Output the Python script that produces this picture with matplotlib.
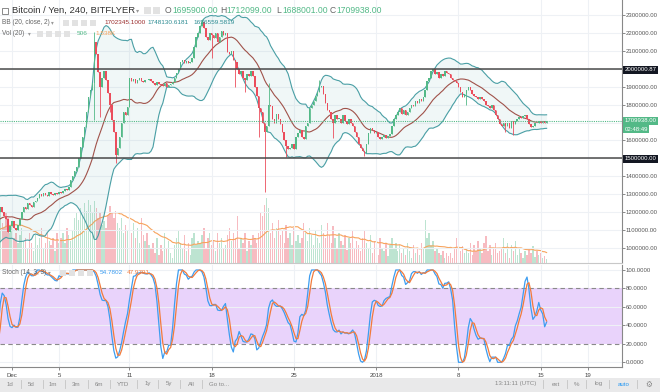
import numpy as np
import pandas as pd
import matplotlib
matplotlib.use('Agg')
import matplotlib.pyplot as plt
from matplotlib.patches import Rectangle
from matplotlib.ticker import FuncFormatter

plt.rcParams['font.family'] = ['Liberation Sans', 'DejaVu Sans']

# 4h candles, closes in thousands of yen. warmup = bars before the visible window (for BB / stoch / vol MA)
warmup_close = [1070, 1080, 1100, 1110, 1120, 1130, 1140, 1160, 1180, 1190,
                1200, 1220, 1250, 1270, 1260, 1180, 1090, 1030, 1120, 1200]
close_k = [
    1230, 1200, 1180, 1160, 1090, 1120, 1150, 1110, 1100, 1130,
    1160, 1200, 1230, 1220, 1250, 1240, 1230, 1257, 1265, 1280,
    1300, 1290, 1305, 1295, 1290, 1310, 1300, 1295, 1305, 1300,
    1310, 1305, 1320, 1330, 1325, 1340, 1380, 1400, 1430, 1452,
    1500, 1564, 1620, 1675, 1760, 1843, 1880, 1920, 2150, 2080,
    1980, 1900, 1950, 1990, 1940, 1865, 1800, 1714, 1650, 1520,
    1560, 1620, 1700, 1760, 1740, 1785, 1950, 1930, 1945, 1920,
    1935, 1950, 1930, 1925, 1940, 1935, 1945, 1930, 1920, 1910,
    1925, 1915, 1910, 1905, 1920, 1900, 1910, 1915, 1925, 1950,
    1976, 2000, 2040, 2050, 2030, 2045, 2030, 2040, 2060, 2120,
    2180, 2200, 2240, 2260, 2230, 2180, 2160, 2200, 2190, 2170,
    2200, 2150, 2180, 2210, 2190, 2200, 2095, 2080, 2100, 2050,
    2040, 2000, 1970, 1990, 1950, 1940, 1970, 1960, 1990, 1960,
    1900, 1850, 1780, 1760, 1700, 1650, 1680, 1800, 1790, 1720,
    1700, 1750, 1720, 1690, 1650, 1600, 1570, 1550, 1560, 1580,
    1550, 1620, 1640, 1660, 1620, 1610, 1680, 1700, 1780, 1800,
    1820, 1850, 1870, 1900, 1905, 1860, 1810, 1770, 1760, 1720,
    1700, 1740, 1720, 1720, 1700, 1740, 1710, 1690, 1720, 1700,
    1680, 1650, 1620, 1580, 1560, 1540, 1530, 1580, 1640, 1670,
    1660, 1640, 1650, 1620, 1610, 1620, 1630, 1615, 1625, 1635,
    1680, 1720, 1740, 1760, 1780, 1750, 1770, 1740, 1760, 1780,
    1800, 1790, 1820, 1810, 1830, 1820, 1840, 1880, 1930, 1950,
    1990, 2000, 1970, 1980, 1950, 1970, 1960, 1985, 1975, 1970,
    1950, 1940, 1930, 1920, 1900, 1870, 1840, 1860, 1880, 1900,
    1880, 1860, 1850, 1840, 1830, 1845, 1830, 1820, 1800, 1790,
    1780, 1800, 1770, 1740, 1720, 1690, 1680, 1700, 1680, 1700,
    1670, 1710, 1690, 1710, 1720, 1730, 1725, 1735, 1740, 1720,
    1690, 1675, 1680, 1700, 1695, 1710, 1700, 1705, 1695, 1709.938,
]
# long wicks (bar index -> price in thousands)
wick_low = {48: 1714, 51: 1730, 56: 1760, 59: 1475, 108: 2060, 120: 1900, 125: 1870,
            132: 1620, 135: 1312, 146: 1508, 170: 1614, 186: 1513, 238: 1798,
            258: 1648, 262: 1631}
wick_high = {48: 2205, 103: 2280, 137: 1920, 163: 1937}

warmup_vol = [4500, 3750, 3000, 4200, 3300, 5250, 3750, 4500, 3000, 4800,
              5250, 4200, 6000, 5700, 4500, 6750, 7500, 6000, 5250, 6750]
volume = [
    8400, 6000, 5250, 7500, 6750, 4500, 5700, 3750, 4500, 3000, 4200, 5250, 3300,
    3750, 2250, 4500, 3000, 1800, 4200, 2700, 3750, 5250, 2250, 3000, 4500, 3300, 2700, 3750, 1800, 4500, 3000,
    3750, 4500, 3000, 5250, 4200, 3300, 4800,
    6750, 7500, 6450, 8250, 7200, 9000, 7800, 9450, 8700, 7500, 9300,
    8250, 6750, 7500, 5700, 6300, 5250, 7200, 8550, 7500, 6750, 7800, 6000, 5250, 6750, 4500, 5700, 4800, 7500,
    4500, 6000, 3750, 5250, 3000, 6750, 4200, 3300, 4500, 2700,
    2250, 3000, 1500, 3750, 1200, 2700, 1800, 4500, 2250, 3300, 1500, 750, 2700, 3750, 4950, 3000, 2250, 4200,
    1800, 3000, 1200, 3750, 4500, 2700, 3300,
    3000, 4200, 5250, 2250, 3750, 4500, 2700, 3300, 1800, 4500, 3000, 3750, 2250, 2700, 4200, 5250, 3300, 4500,
    3750, 7050,
    2250, 3750, 3000, 4500, 1800, 3300, 2700, 4200, 3750, 3000, 4500,
    7500, 7050, 8700, 9750, 8250,
    4500, 6000, 3750, 5250, 6450, 4200, 4800, 3000, 5700, 3750, 4500, 2700, 5250, 3300, 4200, 3000,
    3750, 6000, 4500, 3300, 5250, 4200, 2700, 4800, 3750, 3000, 5700, 4500, 3750, 6000, 4200,
    3000, 5550, 3750, 2250, 4500, 3300, 2700, 4200, 1950, 3750, 3000, 4800, 2250, 3300, 2700,
    1800, 3750, 4950, 3000, 2250, 4200, 1500, 3300, 2700, 1200, 3750, 2250, 1800, 3000, 1050, 2700, 3750, 2250,
    3000, 1800, 2700,
    1500, 2250, 1200, 3000, 1800, 750, 2700, 1500, 2250, 1200,
    3000, 2250, 6450, 3750, 4500, 2700, 3300, 1800, 2250, 1500,
    1200, 1800, 750, 1500, 1050,
    1500, 750, 2250, 3750, 1200, 1800, 2550, 1500,
    2250, 1500, 3000, 1200, 2700, 1800, 3300, 2250, 1500, 3000, 4050, 1800, 2700, 1200, 2250, 3000, 1500, 1800,
    2250, 3750, 1500, 3000, 750, 2700, 1800, 3300, 1200, 2250,
    1500, 750, 1800, 1200, 2250, 1500, 2550, 900, 1800, 1200, 1500, 750, 1050, 600,
]

date_ticks = [6, 30, 66, 108, 150, 192, 234, 276, 300]
date_labels = ['Dec', '5', '11', '18', '25', '2018', '8', '15', '19']
price_ticks = list(range(1000000, 2300001, 100000))
hidden_price_labels = [1500000, 1700000, 2000000]   # covered by the price tags
stoch_ticks = [0, 20, 40, 60, 80, 100]

UP = '#53b987'
DN = '#eb4d5c'

# ---- indicators
n0 = len(warmup_close)
c = np.array(warmup_close + close_k) * 1000.0
o = np.r_[c[0], c[:-1]]
h = np.maximum(o, c)
lo = np.minimum(o, c)
for k, v in wick_low.items():
    lo[n0 + k] = v * 1000
for k, v in wick_high.items():
    h[n0 + k] = v * 1000
idx = np.arange(len(c)) - n0

s = pd.Series(c)
basis = s.rolling(20).mean()
sd = s.rolling(20).std(ddof=0)
upper = basis + 2 * sd
lower = basis - 2 * sd

hh = pd.Series(h).rolling(14).max()
ll = pd.Series(lo).rolling(14).min()
raw = 100 * (s - ll) / (hh - ll)
stk = raw.rolling(3).mean()
std_ = stk.rolling(3).mean()

vol = np.array(warmup_vol + volume, dtype=float)
vma = pd.Series(vol).rolling(20).mean()

# ---- figure
W, H = 660, 392
fig = plt.figure(figsize=(6.6, 3.92), dpi=100)


def box(x0, y0, x1, y1):
    return [x0 / W, 1 - y1 / H, (x1 - x0) / W, (y1 - y0) / H]


def fx(px):
    return px / W


def fy(py):
    return 1 - py / H


xl = (-0.13, 317.5)
ax_vol = fig.add_axes(box(0, 0, 622, 263))
ax = fig.add_axes(box(0, 0, 622, 263), sharex=ax_vol)
ax_st = fig.add_axes(box(0, 265, 622, 367), sharex=ax_vol)
ax.patch.set_visible(False)

# volume
up = c >= o
vcol = np.where(up, UP, DN)
ax_vol.bar(idx, vol, width=0.7, color=vcol, alpha=0.38, linewidth=0)
ax_vol.plot(idx, vma, color='#f7a35c', lw=0.8)
ax_vol.set_ylim(0, 39450)
ax_vol.axis('off')

# grid
for t in price_ticks:
    ax.axhline(t, color='#eef1f5', lw=0.8, zorder=0)
for t in date_ticks:
    ax.axvline(t, color='#eef1f5', lw=0.8, zorder=0)
    ax_st.axvline(t, color='#eef1f5', lw=0.8, zorder=0)

# bollinger
ax.fill_between(idx, lower, upper, color='#5ea8a8', alpha=0.09, lw=0, zorder=1)
ax.plot(idx, upper, color='#4a9fa5', lw=0.8, zorder=2)
ax.plot(idx, lower, color='#4a9fa5', lw=0.8, zorder=2)
ax.plot(idx, basis, color='#a0524a', lw=0.8, zorder=2)

# candles
ccol = np.where(up, UP, DN)
body = c - o
body = np.where(np.abs(body) < 3000, np.where(up, 3000, -3000), body)
ax.vlines(idx, lo, h, colors=ccol, lw=0.6, zorder=3)
ax.bar(idx, body, bottom=o, width=0.75, color=ccol, linewidth=0, zorder=3)

ax.axhline(2000000.87, color='#4a4a4a', lw=1.1, zorder=4)
ax.axhline(1500000, color='#4a4a4a', lw=1.1, zorder=4)
ax.axhline(c[-1], color=UP, lw=0.8, ls=(0, (1, 1)), zorder=4)

ax.set_xlim(*xl)
ax.set_ylim(916300, 2383900)
ax.yaxis.tick_right()
ax.set_yticks(price_ticks)
ax.yaxis.set_major_formatter(FuncFormatter(
    lambda v, p: '' if round(v) in hidden_price_labels else '%.2f' % v))
ax.tick_params(axis='y', length=1.8, width=0.6, color='#777', labelsize=4.3,
               labelcolor='#555', pad=0.6)
ax.tick_params(axis='x', bottom=False, labelbottom=False)
for sp in ['top', 'left']:
    ax.spines[sp].set_visible(False)
ax.spines['right'].set_color('#888')
ax.spines['right'].set_linewidth(0.8)
ax.spines['bottom'].set_color('#c8c8c8')
ax.spines['bottom'].set_linewidth(0.8)

# stochastic
ax_st.axhspan(20, 80, color='#e9d3fb', lw=0, zorder=0)
for t in [100, 60, 40, 0]:
    ax_st.axhline(t, color='#eef1f5', lw=0.8, zorder=0)
for t in [80, 20]:
    ax_st.axhline(t, color='#8a8a8a', lw=0.8, ls=(0, (4, 3)), zorder=1)
ax_st.plot(idx, stk, color='#3d9df0', lw=0.9, zorder=3)
ax_st.plot(idx, std_, color='#f27b3c', lw=0.9, zorder=3)
ax_st.set_ylim(-5.1, 105.4)
ax_st.set_xlim(*xl)
ax_st.yaxis.tick_right()
ax_st.set_yticks(stoch_ticks)
ax_st.yaxis.set_major_formatter(FuncFormatter(lambda v, p: '%.4f' % v))
ax_st.tick_params(axis='y', length=1.8, width=0.6, color='#777', labelsize=4.3,
                  labelcolor='#555', pad=0.6)
ax_st.set_xticks(date_ticks)
ax_st.set_xticklabels(date_labels)
ax_st.tick_params(axis='x', length=2.5, width=0.6, color='#777', labelsize=4.4,
                  labelcolor='#444', pad=1.5)
for sp in ['top', 'left']:
    ax_st.spines[sp].set_visible(False)
for sp in ['right', 'bottom']:
    ax_st.spines[sp].set_color('#888')
    ax_st.spines[sp].set_linewidth(0.8)


# right axis price tags
def tag(py, txt, fc):
    fig.text(fx(624.5), fy(py), txt, fontsize=4.3, color='white', va='center', ha='left',
             bbox=dict(boxstyle='square,pad=0.25', fc=fc, ec='none'), zorder=10)


tag(69.7, '2000000.87', '#131722')
tag(120.7, '1709938.00', UP)
tag(129.3, '02:48:49', UP)
tag(158.7, '1500000.00', '#131722')


# legends
def icon(px, py, size=6, n=1, gap=2):
    for j in range(n):
        fig.add_artist(Rectangle((fx(px + j * (size + gap)), fy(py + size / 2)), size / W, size / H,
                                 transform=fig.transFigure, fc='#e2e2e2', ec='none'))


fig.add_artist(Rectangle((fx(2), fy(13.5)), 6 / W, 6 / H, transform=fig.transFigure,
                         fc='none', ec='#777', lw=0.6))
fig.text(fx(12), fy(10.5), 'Bitcoin / Yen, 240, BITFLYER', fontsize=6.8, color='#333', va='center')
fig.text(fx(136), fy(10.5), '▾', fontsize=4.5, color='#999', va='center')
icon(144, 10.5, 7, 2, 2)
ohlc = [('O', 165, 7.2, '1695900.00'), ('H', 220, 6.8, '1712099.00'),
        ('L', 276.5, 5.6, '1688001.00'), ('C', 330, 6.8, '1709938.00')]
for lab, px, off, val in ohlc:
    fig.text(fx(px), fy(10.5), lab, fontsize=6.2, color='#666', va='center')
    fig.text(fx(px + off), fy(10.5), val, fontsize=6.2, color=UP, va='center')

fig.text(fx(2), fy(22.5), 'BB (20, close, 2)', fontsize=4.7, color='#666', va='center')
fig.text(fx(51), fy(22.5), '▾', fontsize=4, color='#999', va='center')
icon(63, 22.5, 6, 4, 3)
fig.text(fx(104), fy(22.5), '1702345.1000', fontsize=4.6, color='#9b2d2d', va='center')
fig.text(fx(147), fy(22.5), '1748130.6181', fontsize=4.6, color='#2b8b92', va='center')
fig.text(fx(193), fy(22.5), '1656559.5819', fontsize=4.6, color='#2b8b92', va='center')

fig.text(fx(2), fy(33.5), 'Vol (20)', fontsize=4.7, color='#666', va='center')
fig.text(fx(28), fy(33.5), '▾', fontsize=4, color='#999', va='center')
icon(37, 33.5, 6, 4, 3)
fig.text(fx(77), fy(33.5), '506', fontsize=4.6, color=UP, va='center')
fig.text(fx(95), fy(33.5), '1.538K', fontsize=4.6, color='#f7a35c', va='center')

fig.text(fx(2), fy(272.7), 'Stoch (14, 3, 3)', fontsize=4.7, color='#666', va='center')
fig.text(fx(48), fy(272.7), '▾', fontsize=4, color='#999', va='center')
icon(60, 272.7, 6, 4, 3)
fig.text(fx(100), fy(272.7), '54.7802', fontsize=4.6, color='#3d9df0', va='center')
fig.text(fx(127), fy(272.7), '47.9791', fontsize=4.6, color='#f27b3c', va='center')

# bottom toolbar
fig.add_artist(Rectangle((0, 0), 1, 14 / H, transform=fig.transFigure, fc='#e9e9ea', ec='none'))
ty = fy(384)
left_items = [('1d', 10), ('5d', 31), ('1m', 53), ('3m', 76), ('6m', 99), ('YTD', 123),
              ('1y', 147.5), ('5y', 169), ('All', 191)]
for txt, px in left_items:
    fig.text(fx(px), ty, txt, fontsize=4.4, color='#888', ha='center', va='center')
fig.text(fx(209), ty, 'Go to...', fontsize=4.4, color='#888', ha='left', va='center')
for px in [21, 43, 65, 88, 110, 137, 158, 180, 202, 543, 567, 586, 609, 637]:
    fig.add_artist(plt.Line2D([fx(px), fx(px)], [fy(380), fy(388)], transform=fig.transFigure,
                              color='#c4c4c4', lw=0.6))
right_items = [('13:11:11 (UTC)', 515.5, '#888'), ('ext', 556, '#888'), ('%', 577, '#888'),
               ('log', 598.5, '#888'), ('auto', 624, '#2196f3')]
for txt, px, col in right_items:
    fig.text(fx(px), ty, txt, fontsize=4.4, color=col, ha='center', va='center')
fig.text(fx(649), ty, '⚙', fontsize=5.5, color='#888', ha='center', va='center',
         family='DejaVu Sans')

fig.savefig('out.png', dpi=100)
